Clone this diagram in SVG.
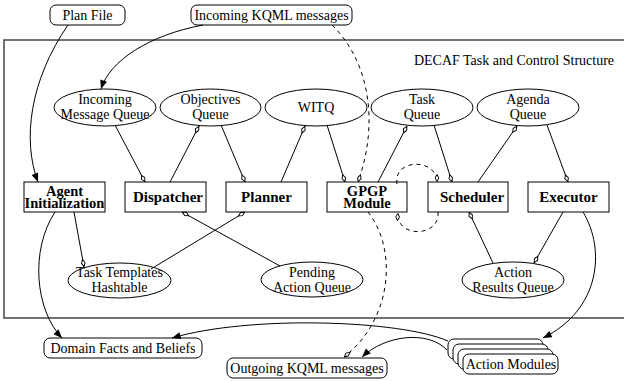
<svg xmlns="http://www.w3.org/2000/svg" width="624" height="381" viewBox="0 0 624 381">
<style>
text{font-family:"Liberation Serif","DejaVu Serif","Times New Roman",serif;fill:#000;text-anchor:middle}
.t{font-size:14px}
.b{font-size:15px;font-weight:bold}
.b2{font-size:14.5px;font-weight:bold}
.n{fill:#fff;stroke:#000;stroke-width:1}
.c{fill:none;stroke:#000;stroke-width:1}
.d{stroke-dasharray:4,4}
.dm{marker-end:url(#dia)}
.ar{marker-end:url(#arr)}
</style>
<defs>
<marker id="dia" viewBox="0 0 10 6" markerUnits="userSpaceOnUse" markerWidth="8" markerHeight="5" refX="10" refY="3" orient="auto">
<path d="M0.5,3 L5,0.7 L9.5,3 L5,5.3 Z" fill="#fff" stroke="#000" stroke-width="1.2"/>
</marker>
<marker id="arr" viewBox="0 0 10 8" markerUnits="userSpaceOnUse" markerWidth="10" markerHeight="7" refX="10" refY="4" orient="auto">
<path d="M0,0 L10,4 L0,8 Z" fill="#000"/>
</marker>
</defs>

<g id="frame">
<rect x="4" y="40" width="630" height="278" fill="none" stroke="#444" stroke-width="1.5"/>
<text class="t" x="514" y="65">DECAF Task and Control Structure</text>
</g>

<g id="plan-file"><rect class="n" x="50" y="5" width="75" height="20" rx="6"/><text class="t" x="87.5" y="20">Plan File</text></g>
<g id="incoming-kqml"><rect class="n" x="191" y="5" width="161" height="20" rx="6"/><text class="t" x="271.5" y="20">Incoming KQML messages</text></g>

<g id="incoming-queue"><ellipse class="n" cx="105" cy="107.5" rx="51" ry="18.5"/><text class="t" x="105" y="104">Incoming</text><text class="t" x="105" y="119">Message Queue</text></g>
<g id="objectives-queue"><ellipse class="n" cx="210.5" cy="107.5" rx="50.5" ry="18.5"/><text class="t" x="210.5" y="104">Objectives</text><text class="t" x="210.5" y="119">Queue</text></g>
<g id="witq"><ellipse class="n" cx="316" cy="107.5" rx="51" ry="18.5"/><text class="t" x="316" y="112">WITQ</text></g>
<g id="task-queue"><ellipse class="n" cx="422" cy="107.5" rx="51" ry="18.5"/><text class="t" x="422" y="104">Task</text><text class="t" x="422" y="119">Queue</text></g>
<g id="agenda-queue"><ellipse class="n" cx="528" cy="107.5" rx="51" ry="18.5"/><text class="t" x="528" y="104">Agenda</text><text class="t" x="528" y="119">Queue</text></g>

<g id="agent-init"><rect class="n" x="24" y="182" width="81" height="30"/><text class="b2" x="64.5" y="196">Agent</text><text class="b2" x="64.5" y="207.5">Initialization</text></g>
<g id="dispatcher"><rect class="n" x="125" y="182" width="81" height="30"/><text class="b" x="168" y="202">Dispatcher</text></g>
<g id="planner"><rect class="n" x="226" y="182" width="81" height="30"/><text class="b" x="266.5" y="202">Planner</text></g>
<g id="gpgp"><rect class="n" x="327" y="182" width="80" height="30"/><text class="b2" x="367" y="196">GPGP</text><text class="b2" x="367" y="207.5">Module</text></g>
<g id="scheduler"><rect class="n" x="428" y="182" width="80" height="30"/><text class="b" x="472" y="202">Scheduler</text></g>
<g id="executor"><rect class="n" x="528" y="182" width="81" height="30"/><text class="b" x="568.5" y="202">Executor</text></g>

<g id="task-templates"><ellipse class="n" cx="119.5" cy="280.5" rx="51.5" ry="17.5"/><text class="t" x="119.5" y="277">Task Templates</text><text class="t" x="119.5" y="292">Hashtable</text></g>
<g id="pending-queue"><ellipse class="n" cx="312" cy="279.5" rx="51" ry="17.5"/><text class="t" x="312" y="277">Pending</text><text class="t" x="312" y="292">Action Queue</text></g>
<g id="action-results"><ellipse class="n" cx="513" cy="280" rx="51" ry="18"/><text class="t" x="513" y="277">Action</text><text class="t" x="513" y="292">Results Queue</text></g>

<g id="domain-facts"><rect class="n" x="44" y="338" width="158" height="20" rx="6"/><text class="t" x="123" y="353">Domain Facts and Beliefs</text></g>
<g id="outgoing-kqml"><rect class="n" x="227" y="358" width="160" height="20" rx="6"/><text class="t" x="307" y="373">Outgoing KQML messages</text></g>
<g id="action-modules">
<rect class="n" x="448" y="339" width="95" height="20" rx="6"/>
<rect class="n" x="453" y="344" width="95" height="20" rx="6"/>
<rect class="n" x="458" y="349" width="95" height="20" rx="6"/>
<rect class="n" x="463" y="354" width="95" height="20" rx="6"/>
<text class="t" x="511" y="369">Action Modules</text>
</g>

<g id="connectors">
<path class="c ar" d="M68,25 C 30,80 22,140 38,182"/>
<path class="c ar" d="M203,25 C 150,35 110,60 101,89"/>
<path class="c d dm" d="M332,25 C 368,60 380,120 358,182"/>
<path class="c dm" d="M115,125 L145,182"/>
<path class="c dm" d="M170,182 L199,126"/>
<path class="c dm" d="M221,125 L245,182"/>
<path class="c dm" d="M281,182 L305,126"/>
<path class="c dm" d="M327,125 L345,182"/>
<path class="c dm" d="M378,182 L407,126"/>
<path class="c dm" d="M434,125 L452,182"/>
<path class="c dm" d="M478,182 L517,126"/>
<path class="c dm" d="M547,125 L568,182"/>
<path class="c d dm" d="M397,184 C 393,158 437,158 437,182"/>
<path class="c d dm" d="M438,212 C 440,238 396,238 398,213"/>
<path class="c dm" d="M280,266 L182,212"/>
<path class="c dm" d="M151,269 L245,212"/>
<path class="c dm" d="M74,212 L84,267"/>
<path class="c ar" d="M55,212 C 30,250 35,310 62,338"/>
<path class="c d dm" d="M368,212 C 398,250 392,320 344,357"/>
<path class="c ar" d="M448,341 C 400,320 250,315 172,338"/>
<path class="c ar" d="M447,350 C 428,330 385,335 362,357"/>
<path class="c ar" d="M583,212 C 606,250 600,310 543,338"/>
<path class="c dm" d="M493,263 L469,212"/>
<path class="c dm" d="M563,212 L534,263"/>
</g>
</svg>
